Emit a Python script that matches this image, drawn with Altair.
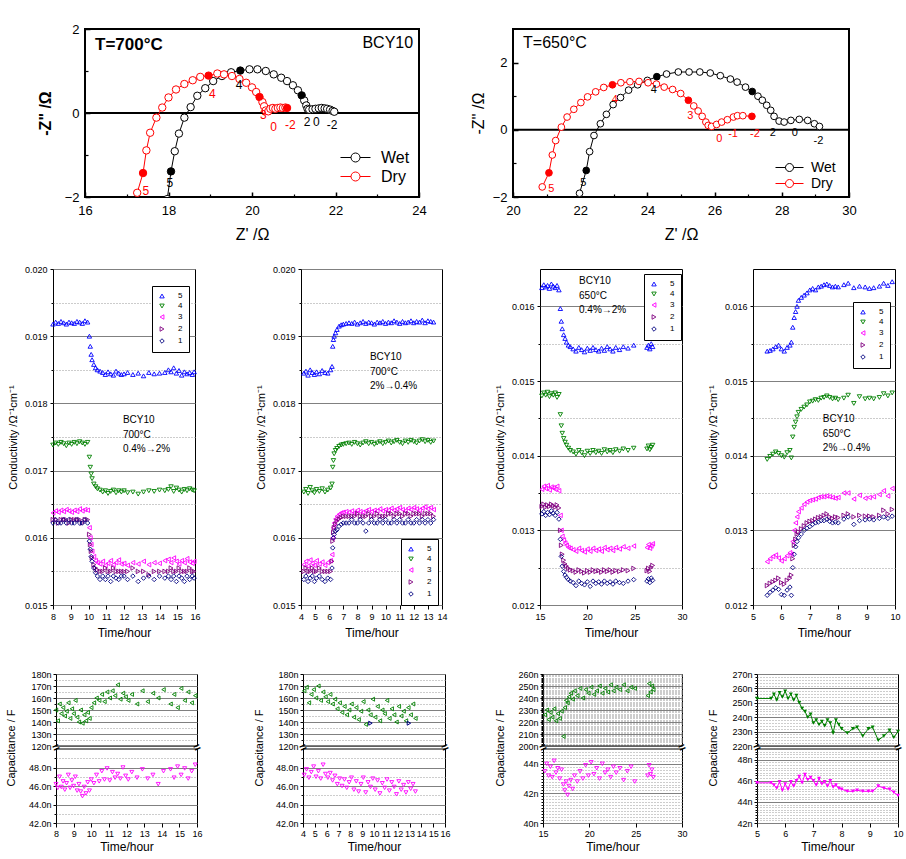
import altair as alt
import pandas as pd

FONT = "Liberation Sans"
GREEN = "#008000"
MAGENTA = "#ff00ff"
NAVY = "#000080"

# ======================= DATA =======================
# ---- Nyquist, 700 C ----
n700_wet_x = [17.97, 18.06, 18.15, 18.25, 18.38, 18.53, 18.69, 18.88, 19.07, 19.28, 19.50, 19.72, 19.94, 20.13, 20.33, 20.52, 20.70, 20.84, 20.98, 21.10, 21.19, 21.25, 21.30, 21.33, 21.37, 21.45, 21.52, 21.60, 21.67, 21.74, 21.80, 21.87, 21.93, 21.97]
n700_wet_y = [-2.05, -1.39, -0.91, -0.49, -0.11, 0.14, 0.41, 0.59, 0.76, 0.88, 0.97, 1.01, 1.04, 1.04, 1.00, 0.92, 0.84, 0.76, 0.66, 0.54, 0.42, 0.30, 0.18, 0.10, 0.08, 0.09, 0.10, 0.11, 0.12, 0.11, 0.10, 0.08, 0.05, 0.03]
n700_wet_solid = [1, 11, 20]
n700_dry_x = [17.25, 17.39, 17.47, 17.56, 17.71, 17.85, 18.00, 18.18, 18.38, 18.58, 18.76, 18.96, 19.17, 19.33, 19.52, 19.70, 19.86, 20.00, 20.10, 20.18, 20.25, 20.29, 20.33, 20.39, 20.44, 20.50, 20.56, 20.62, 20.68, 20.74, 20.80, 20.84]
n700_dry_y = [-1.90, -1.43, -0.89, -0.47, -0.11, 0.13, 0.37, 0.56, 0.69, 0.78, 0.86, 0.89, 0.94, 0.92, 0.88, 0.81, 0.72, 0.61, 0.50, 0.38, 0.26, 0.16, 0.06, 0.04, 0.10, 0.12, 0.10, 0.12, 0.13, 0.12, 0.13, 0.12]
n700_dry_solid = [1, 11, 19, 31]
n700_lab_t = ["5", "4", "2", "0", "-2", "5", "4", "3", "0", "-2"]
n700_lab_x = [18.03, 19.69, 21.32, 21.54, 21.92, 17.46, 19.05, 20.27, 20.52, 20.92]
n700_lab_y = [-1.67, 0.67, -0.22, -0.22, -0.29, -1.86, 0.45, -0.05, -0.34, -0.29]
n700_lab_s = ["Wet"] * 5 + ["Dry"] * 5

# ---- Nyquist, 650 C ----
n650_wet_x = [21.98, 22.18, 22.28, 22.41, 22.60, 22.78, 22.98, 23.20, 23.44, 23.71, 24.00, 24.28, 24.57, 24.92, 25.24, 25.56, 25.87, 26.17, 26.47, 26.67, 26.92, 27.12, 27.29, 27.42, 27.55, 27.67, 27.77, 27.92, 28.07, 28.27, 28.52, 28.77, 28.97, 29.12]
n650_wet_y = [-1.89, -1.21, -0.65, -0.17, 0.18, 0.46, 0.75, 0.96, 1.18, 1.34, 1.47, 1.58, 1.66, 1.72, 1.72, 1.72, 1.69, 1.61, 1.51, 1.42, 1.27, 1.14, 1.00, 0.88, 0.73, 0.58, 0.40, 0.26, 0.23, 0.28, 0.31, 0.28, 0.18, 0.10]
n650_wet_solid = [1, 11, 21]
n650_dry_x = [20.87, 21.07, 21.17, 21.27, 21.44, 21.61, 21.81, 22.02, 22.22, 22.46, 22.70, 22.96, 23.21, 23.48, 23.75, 24.02, 24.27, 24.50, 24.75, 24.99, 25.22, 25.38, 25.51, 25.63, 25.74, 25.81, 25.91, 26.06, 26.21, 26.38, 26.56, 26.68, 26.84, 27.11]
n650_dry_y = [-1.70, -1.28, -0.75, -0.32, 0.08, 0.38, 0.61, 0.81, 0.98, 1.13, 1.26, 1.34, 1.40, 1.43, 1.44, 1.40, 1.36, 1.27, 1.20, 1.08, 0.88, 0.71, 0.56, 0.40, 0.23, 0.13, 0.10, 0.16, 0.23, 0.30, 0.38, 0.42, 0.42, 0.40]
n650_dry_solid = [1, 11, 20, 33]
n650_lab_t = ["5", "4", "2", "0", "-2", "5", "4", "3", "0", "-1", "-2"]
n650_lab_x = [22.09, 24.19, 27.73, 28.39, 29.09, 21.14, 23.03, 25.28, 26.14, 26.55, 27.20]
n650_lab_y = [-1.59, 1.19, -0.09, -0.09, -0.32, -1.76, 0.88, 0.40, -0.27, -0.12, -0.12]
n650_lab_s = ["Wet"] * 5 + ["Dry"] * 6

# ---- Conductivity (units of 1e-5 S/cm), series 5,4,3,2,1 ----
c700a_t = [8.0, 8.15, 8.3, 8.45, 8.6, 8.75, 8.9, 9.05, 9.2, 9.35, 9.5, 9.65, 9.8, 9.95,
           10.05, 10.1, 10.15, 10.2, 10.3, 10.4, 10.5, 10.65, 10.8, 10.95, 11.1, 11.25, 11.4, 11.55, 11.7, 11.85,
           12.0, 12.2, 12.5, 12.8, 13.1, 13.4, 13.7, 14.0, 14.3,
           14.5, 14.65, 14.8, 14.95, 15.1, 15.25, 15.4, 15.55, 15.7, 15.85, 15.95]
c700a_s5 = [1918, 1921, 1919, 1922, 1920, 1918, 1921, 1920, 1919, 1922, 1921, 1919, 1923, 1921,
            1900, 1885, 1873, 1865, 1858, 1853, 1850, 1848, 1846, 1843, 1847, 1844, 1842, 1848, 1845, 1843,
            1844, 1846, 1843, 1845, 1841, 1846, 1844, 1845, 1846,
            1850, 1847, 1853, 1845, 1849, 1842, 1847, 1844, 1846, 1843, 1847]
c700a_s4 = [1738, 1741, 1739, 1742, 1740, 1737, 1741, 1739, 1742, 1740, 1743, 1741, 1739, 1742,
            1720, 1705, 1695, 1688, 1680, 1676, 1673, 1671, 1668, 1670, 1666, 1669, 1671, 1667, 1670, 1668,
            1670, 1667, 1668, 1665, 1668, 1670, 1669, 1671, 1670,
            1672, 1676, 1669, 1674, 1671, 1668, 1672, 1670, 1673, 1671, 1670]
c700a_s3 = [1637, 1640, 1638, 1641, 1639, 1642, 1640, 1638, 1641, 1639, 1643, 1640, 1642, 1641,
            1615, 1600, 1590, 1580, 1572, 1566, 1563, 1561, 1565, 1559, 1562, 1566, 1560, 1563, 1567, 1561,
            1562, 1559, 1563, 1561, 1565, 1560, 1563, 1562, 1566,
            1568, 1563, 1570, 1565, 1561, 1566, 1563, 1569, 1564, 1562, 1565]
c700a_s2 = [1627, 1627, 1622, 1627, 1627, 1627, 1622, 1627, 1627, 1627, 1627, 1622, 1627, 1627,
            1605, 1590, 1580, 1570, 1560, 1555, 1552, 1550, 1550, 1555, 1550, 1550, 1555, 1550, 1550, 1550,
            1550, 1550, 1555, 1550, 1550, 1545, 1550, 1550, 1550,
            1550, 1555, 1550, 1550, 1555, 1550, 1550, 1550, 1555, 1550, 1550]
c700a_s1 = [1622, 1627, 1622, 1622, 1627, 1622, 1627, 1622, 1622, 1627, 1622, 1622, 1627, 1622,
            1595, 1583, 1572, 1565, 1555, 1548, 1543, 1538, 1543, 1538, 1543, 1535, 1543, 1540, 1538, 1543,
            1543, 1538, 1543, 1535, 1540, 1543, 1538, 1543, 1540,
            1543, 1538, 1543, 1535, 1543, 1540, 1535, 1543, 1538, 1543, 1540]

c700b_t = [4.2, 4.35, 4.5, 4.65, 4.8, 4.95, 5.1, 5.3, 5.5, 5.7, 5.9, 6.1,
           6.2, 6.25, 6.3, 6.35, 6.45, 6.55, 6.7, 6.85, 7.0, 7.2,
           7.4, 7.6, 7.8, 8.0, 8.2, 8.4, 8.6, 8.8, 9.0, 9.2, 9.4, 9.6, 9.8, 10.0, 10.2, 10.4,
           10.6, 10.8, 11.0, 11.2, 11.4, 11.6, 11.8, 12.0, 12.2, 12.4, 12.6, 12.8, 13.0, 13.2, 13.4]
c700b_s5 = [1845, 1848, 1842, 1850, 1846, 1843, 1847, 1844, 1849, 1846, 1845, 1850,
            1855, 1885, 1895, 1900, 1905, 1910, 1915, 1917, 1918, 1919,
            1920, 1919, 1921, 1918, 1920, 1922, 1919, 1921, 1920, 1918, 1921, 1920, 1922, 1919, 1921, 1920,
            1923, 1921, 1919, 1922, 1920, 1921, 1923, 1920, 1922, 1921, 1924, 1920, 1923, 1922, 1921]
c700b_s4 = [1668, 1672, 1666, 1675, 1670, 1667, 1672, 1669, 1673, 1668, 1671, 1674,
            1680, 1705, 1715, 1725, 1730, 1733, 1736, 1738, 1739, 1740,
            1741, 1739, 1742, 1740, 1738, 1741, 1743, 1740, 1742, 1739, 1741, 1743, 1740, 1742, 1744, 1741,
            1743, 1745, 1742, 1740, 1744, 1742, 1745, 1743, 1741, 1744, 1746, 1743, 1745, 1742, 1744]
c700b_s3 = [1560, 1565, 1558, 1567, 1562, 1559, 1566, 1561, 1564, 1559, 1563, 1566,
            1575, 1600, 1615, 1622, 1628, 1632, 1635, 1637, 1638, 1639,
            1638, 1640, 1637, 1641, 1639, 1638, 1640, 1642, 1639, 1641, 1640, 1643, 1640, 1642, 1641, 1644,
            1641, 1643, 1645, 1642, 1640, 1644, 1642, 1645, 1643, 1641, 1644, 1646, 1643, 1645, 1642]
c700b_s2 = [1550, 1555, 1550, 1550, 1555, 1550, 1550, 1555, 1550, 1550, 1550, 1550,
            1565, 1595, 1608, 1615, 1620, 1625, 1628, 1630, 1632, 1632,
            1632, 1632, 1632, 1636, 1632, 1632, 1632, 1636, 1632, 1632, 1636, 1632, 1632, 1632, 1636, 1636,
            1632, 1636, 1636, 1632, 1636, 1636, 1632, 1636, 1636, 1636, 1632, 1636, 1636, 1636, 1632]
c700b_s1 = [1538, 1543, 1535, 1540, 1543, 1535, 1540, 1543, 1538, 1535, 1540, 1538,
            1555, 1585, 1600, 1605, 1610, 1612, 1617, 1620, 1622, 1622,
            1622, 1627, 1622, 1622, 1627, 1622, 1610, 1622, 1627, 1622, 1622, 1627, 1622, 1627, 1622, 1622,
            1627, 1622, 1627, 1622, 1622, 1627, 1622, 1622, 1627, 1622, 1627, 1622, 1627, 1622, 1627]

c650a_t = [15.2, 15.4, 15.6, 15.8, 16.0, 16.2, 16.4, 16.6, 16.8, 17.0,
           17.15, 17.25, 17.35, 17.5, 17.65, 17.8, 18.0, 18.2,
           18.5, 18.8, 19.1, 19.4, 19.7, 20.0, 20.3, 20.6, 20.9, 21.2, 21.5, 21.8, 22.1, 22.4, 22.7, 23.0, 23.4, 23.8, 24.3, 24.9,
           26.3, 26.45, 26.6, 26.75, 26.9]
c650a_s5 = [1625, 1629, 1626, 1628, 1624, 1630, 1627, 1625, 1628, 1622,
            1597, 1580, 1570, 1562, 1557, 1552, 1548, 1546,
            1543, 1540, 1545, 1542, 1539, 1544, 1541, 1545, 1542, 1540, 1544, 1541, 1546, 1543, 1540, 1545, 1542, 1546, 1544, 1548,
            1545, 1548, 1543, 1550, 1546]
c650a_s4 = [1480, 1484, 1481, 1485, 1479, 1483, 1481, 1484, 1478, 1482,
            1455, 1440, 1430, 1423, 1418, 1414, 1410, 1407,
            1405, 1402, 1407, 1404, 1400, 1406, 1403, 1407, 1404, 1406, 1403, 1408, 1405, 1407, 1404, 1408, 1406, 1409, 1407, 1410,
            1409, 1413, 1408, 1411, 1414]
c650a_s3 = [1355, 1359, 1356, 1360, 1354, 1358, 1357, 1355, 1359, 1353,
            1320, 1300, 1292, 1287, 1283, 1280, 1277, 1276,
            1274, 1272, 1276, 1273, 1271, 1275, 1272, 1276, 1273, 1275, 1272, 1277, 1274, 1276, 1273, 1277, 1275, 1278, 1276, 1279,
            1277, 1281, 1276, 1279, 1282]
c650a_s2 = [1332, 1335, 1331, 1334, 1332, 1335, 1333, 1331, 1334, 1330,
            1300, 1280, 1268, 1260, 1255, 1252, 1249, 1247,
            1246, 1244, 1247, 1245, 1243, 1246, 1244, 1247, 1245, 1246, 1244, 1247, 1245, 1247, 1244, 1246, 1245, 1247, 1246, 1249,
            1246, 1249, 1245, 1250, 1253]
c650a_s1 = [1322, 1325, 1320, 1324, 1321, 1326, 1323, 1320, 1324, 1315,
            1288, 1265, 1252, 1245, 1240, 1237, 1234, 1232,
            1230, 1226, 1232, 1229, 1227, 1231, 1225, 1232, 1229, 1231, 1228, 1232, 1229, 1231, 1228, 1232, 1230, 1229, 1232, 1234,
            1232, 1235, 1230, 1236, 1233]

c650b_t = [5.5, 5.6, 5.7, 5.8, 5.9, 6.0, 6.1, 6.2, 6.3, 6.35,
           6.4, 6.45, 6.5, 6.55, 6.6, 6.7, 6.8, 6.9, 7.0, 7.1, 7.2, 7.3, 7.4, 7.5,
           7.6, 7.7, 7.8, 7.9, 8.0, 8.2,
           8.35, 8.55, 8.75, 8.95, 9.1, 9.25, 9.45, 9.6, 9.75, 9.9]
c650b_s5 = [1540, 1541, 1543, 1546, 1548, 1543, 1540, 1545, 1548, 1552,
            1572, 1585, 1593, 1600, 1608, 1612, 1615, 1618, 1622, 1624, 1622, 1626, 1627, 1629,
            1630, 1628, 1626, 1627, 1626, 1629,
            1631, 1625, 1627, 1626, 1624, 1625, 1627, 1631, 1628, 1633]
c650b_s4 = [1395, 1399, 1402, 1405, 1403, 1400, 1398, 1404, 1407, 1397,
            1425, 1438, 1445, 1452, 1458, 1462, 1465, 1468, 1472, 1473, 1475, 1474, 1477, 1478,
            1480, 1478, 1476, 1477, 1475, 1477,
            1481, 1470, 1479, 1476, 1477, 1476, 1478, 1483, 1480, 1484]
c650b_s3 = [1258, 1262, 1265, 1267, 1263, 1259, 1262, 1266, 1270, 1268,
            1285, 1300, 1310, 1318, 1325, 1330, 1335, 1338, 1340, 1341, 1342, 1344, 1345, 1345,
            1346, 1345, 1344, 1343, 1344, 1350,
            1350, 1342, 1347, 1343, 1344, 1345, 1348, 1353, 1346, 1356]
c650b_s2 = [1226, 1229, 1231, 1233, 1236, 1230, 1228, 1233, 1236, 1240,
            1262, 1280, 1288, 1295, 1298, 1302, 1306, 1310, 1312, 1313, 1315, 1317, 1318, 1320,
            1322, 1318, 1316, 1318, 1317, 1320,
            1322, 1318, 1320, 1319, 1319, 1318, 1320, 1327, 1322, 1328]
c650b_s1 = [1213, 1217, 1220, 1223, 1221, 1214, 1213, 1220, 1224, 1213,
            1250, 1268, 1278, 1285, 1290, 1295, 1300, 1303, 1305, 1308, 1310, 1311, 1313, 1313,
            1315, 1312, 1310, 1311, 1310, 1315,
            1318, 1308, 1313, 1314, 1315, 1314, 1316, 1318, 1316, 1319]

# ---- Capacitance (nF) ----
p1_t = [8.0, 8.1, 8.2, 8.3, 8.4, 8.5, 8.6, 8.7, 8.8, 8.9, 9.0, 9.1, 9.2, 9.3, 9.4, 9.5, 9.6, 9.7, 9.8, 9.9, 10.0,
        10.15, 10.3, 10.45, 10.6, 10.75, 10.9, 11.05, 11.2, 11.35, 11.5, 11.65, 11.8, 11.95, 12.1,
        12.3, 12.6, 12.9, 13.2, 13.5, 13.8, 14.1, 14.5, 14.7, 14.9, 15.1, 15.3, 15.5, 15.7, 15.9]
p1_up = [150, 141, 155, 147, 152, 145, 149, 156, 143, 151, 147, 158, 144, 140, 150, 139, 146, 141, 148, 143,
         152, 156, 160, 158, 163, 157, 165, 160, 166, 162, 171, 159, 164, 161, 158, 163, 155, 166, 157, 164,
         160, 167, 155, 163, 152, 168, 158, 165, 156, 162]
p1_lo = [46.2, 45.8, 47.0, 45.9, 46.5, 45.6, 46.3, 47.2, 45.8, 46.6, 46.0, 47.0, 45.5, 46.2, 45.4, 44.9, 45.9, 45.2, 46.4, 45.5,
         46.7, 46.3, 47.2, 46.5, 47.6, 46.7, 47.9, 46.6, 47.5, 46.9, 47.3, 46.8, 48.0, 47.1, 46.7, 47.5, 46.9, 47.8, 46.8, 47.2,
         46.2, 47.6, 47.8, 46.9, 48.1, 47.2, 47.9, 46.8, 47.6, 48.3]

p2_t = [4.1, 4.3, 4.5, 4.7, 4.9, 5.1, 5.3, 5.5, 5.7, 5.9, 6.1, 6.3, 6.5, 6.7, 6.9, 7.1, 7.3, 7.5, 7.7, 7.9,
        8.1, 8.3, 8.5, 8.7, 8.9, 9.1, 9.3, 9.5, 9.7, 9.9, 10.1, 10.3, 10.5, 10.7, 10.9, 11.1, 11.3, 11.5, 11.7, 11.9,
        12.1, 12.3, 12.5, 12.7, 12.9, 13.1, 13.3, 13.5]
p2_up = [166, 169, 156, 163, 167, 160, 170, 158, 165, 161, 157, 163, 155, 159, 151, 156, 148, 153, 146, 150,
         155, 144, 152, 142, 149, 157, 138, 150, 146, 159, 144, 153, 141, 150, 147, 158, 143, 151, 146, 140,
         153, 145, 149, 141, 152, 146, 155, 143]
p2_lo = [47.2, 47.8, 46.9, 47.5, 48.1, 47.0, 47.6, 46.8, 48.3, 47.3, 46.9, 47.4, 46.6, 47.1, 46.2, 46.8, 46.0, 46.7, 45.8, 46.4,
         46.9, 45.6, 46.5, 45.4, 46.2, 46.9, 45.3, 46.4, 45.9, 46.8, 45.6, 46.6, 45.2, 46.3, 45.8, 46.7, 45.5, 46.4, 45.9, 45.1,
         46.5, 45.6, 46.1, 45.3, 46.4, 45.7, 46.2, 45.4]
p2_extra_t = [9.7, 12.95]
p2_extra_up = [139, 139]

p3_t = [15.2, 15.4, 15.6, 15.8, 16.0, 16.2, 16.4, 16.6, 16.8, 17.0, 17.2, 17.35, 17.5, 17.65, 17.8, 18.0, 18.2, 18.4, 18.7, 19.0,
        19.3, 19.6, 19.9, 20.2, 20.5, 20.8, 21.1, 21.4, 21.7, 22.0, 22.3, 22.6, 22.9, 23.3, 23.7, 24.1, 24.5, 24.9,
        26.3, 26.45, 26.6, 26.75, 26.9]
p3_up = [226, 230, 222, 228, 224, 231, 221, 227, 223, 229, 208, 232, 238, 236, 241, 244, 239, 246, 242, 248,
         240, 247, 244, 249, 243, 246, 250, 244, 248, 245, 251, 246, 249, 247, 251, 246, 249, 248,
         242, 252, 245, 250, 247]
p3_lo = [43.5, 44.0, 43.2, 43.8, 43.1, 44.2, 43.4, 43.7, 43.0, 43.6, 42.6, 42.2, 42.8, 41.9, 42.5, 42.9, 42.3, 43.2, 42.8, 43.5,
         43.0, 43.9, 43.2, 44.1, 43.3, 43.7, 43.0, 44.0, 43.4, 43.6, 43.1, 43.8, 43.4, 43.7, 42.9, 43.5, 43.8, 42.8,
         43.2, 43.9, 43.3, 43.6, 43.1]

p4_t = [5.0, 5.5, 5.6, 5.7, 5.8, 5.9, 6.0, 6.1, 6.2, 6.3, 6.4, 6.5, 6.6, 6.7, 6.8, 6.9, 7.0, 7.1, 7.2, 7.3,
        7.4, 7.5, 7.6, 7.7, 7.8, 7.9, 8.0, 8.2, 8.4, 8.55, 8.75, 8.95, 9.1, 9.3, 9.5, 9.7, 9.85, 10.0]
p4_up = [253, 253, 256, 252, 257, 254, 258, 253, 256, 252, 255, 250, 246, 244, 240, 242, 236, 238, 235, 237,
         234, 238, 236, 229, 238, 235, 232, 229, 232, 233, 227, 232, 233, 224, 227, 231, 226, 230]
p4_lo = [45.8, 45.8, 45.6, 45.3, 45.9, 45.1, 45.7, 45.2, 45.9, 45.5, 46.0, 46.4, 45.8, 46.6, 46.1, 46.3, 46.0, 45.6, 46.2, 45.7,
         45.9, 45.5, 46.0, 45.4, 45.6, 45.3, 45.2, 45.0, 45.0, 45.1, 45.0, 45.0, 45.0, 45.5, 45.3, 45.2, 44.9, 44.6]

SER = ["5", "4", "3", "2", "1"]
SER_COL = ["#0000ff", GREEN, MAGENTA, "#800080", NAVY]
SER_SHP = ["triangle-up", "triangle-down", "triangle-left", "triangle-right", "diamond"]

ONE = pd.DataFrame({"k": [0]})


# ======================= HELPERS =======================
def frame(w):
    return alt.ViewBackground(stroke="black", strokeWidth=w)


def spacer(w, top=None, bottom=None, lead=False):
    enc = dict(x=alt.value(-5 if lead else 0), x2=alt.value(w))
    if top is None:
        enc.update(y=alt.value(0), y2=alt.value(1))
    else:
        enc.update(y=alt.value(-top), y2=alt.value(bottom))
    return (alt.Chart(ONE).mark_rect(opacity=0).encode(**enc)
            .properties(width=w, height=1, view=alt.ViewBackground(stroke="transparent", strokeWidth=0)))


def nyquist(wx, wy, ws, dx, dy, ds, lt, lx, ly, ls, xdom, xvals, xminor, ydom, yvals, yminor, w, h,
            ytitle, ybold, ytx, ann, leg, labfs, msize):
    parts = []
    for name, xs_, ys_, solid in (("Wet", wx, wy, ws), ("Dry", dx, dy, ds)):
        d = pd.DataFrame({"x": xs_, "y": ys_})
        d["s"] = name
        d["i"] = range(len(d))
        d["f"] = [i in solid for i in range(len(d))]
        parts.append(d)
    df = pd.concat(parts, ignore_index=True)
    labs = pd.DataFrame({"t": lt, "x": lx, "y": ly, "s": ls})
    xs = alt.Scale(domain=xdom, nice=False, zero=False)
    ys = alt.Scale(domain=ydom, nice=False, zero=False)
    cs = alt.Scale(domain=["Wet", "Dry"], range=["black", "red"])
    # ticks point inward: axis shifted inside by the tick length
    X = alt.X("x:Q", scale=xs, axis=alt.Axis(orient="bottom", values=xvals, title="Z' /Ω", labelFontSize=13,
                                              titleFontSize=16, tickSize=5, offset=-5, labelPadding=7,
                                              titlePadding=9, labelFlush=False, grid=False, tickWidth=1.5))
    Y = alt.Y("y:Q", scale=ys, axis=alt.Axis(orient="left", values=yvals, title=ytitle, labelFontSize=13,
                                              titleFontSize=16, titleFontWeight=ybold, tickSize=5, offset=-5,
                                              labelPadding=6, grid=False, tickWidth=1.5,
                                              titleX=ytx - 5, titleY=h / 2, titleBaseline="middle"))
    X0 = alt.X("x:Q", scale=xs, axis=None)
    Y0 = alt.Y("y:Q", scale=ys, axis=None)
    CN = alt.Color("s:N", scale=cs, legend=None)
    L = alt.Legend(title=None, orient="none", legendX=leg["x"], legendY=leg["y"], symbolType=leg["path"],
                   symbolSize=leg["size"], symbolStrokeWidth=1, symbolFillColor="white",
                   labelFontSize=leg["fs"], labelOffset=leg["off"], rowPadding=0, padding=0, labelFont=FONT)
    minor = alt.Chart(pd.DataFrame({"x": [xdom[0]], "y": [ydom[0]]})).mark_point(opacity=0).encode(
        x=alt.X("x:Q", scale=xs, axis=alt.Axis(orient="bottom", values=xminor, labels=False, tickSize=3,
                                                offset=-3, grid=False, title=None, tickWidth=1.2)),
        y=alt.Y("y:Q", scale=ys, axis=alt.Axis(orient="left", values=yminor, labels=False, tickSize=3,
                                                offset=-3, grid=False, title=None, tickWidth=1.2)))
    zero = alt.Chart(pd.DataFrame({"y": [0.0]})).mark_rule(color="black", strokeWidth=2).encode(y=Y0)
    line = alt.Chart(df).mark_line(strokeWidth=1, clip=True).encode(x=X, y=Y, color=CN, order="i:Q", detail="s:N")
    pts = alt.Chart(df).mark_point(filled=False, fill="white", fillOpacity=1, size=msize, strokeWidth=1,
                                   opacity=1, clip=True).encode(x=X0, y=Y0, color=alt.Color("s:N", scale=cs, legend=L))
    sol = alt.Chart(df).transform_filter("datum.f").mark_point(filled=True, size=msize, opacity=1,
                                                               clip=True).encode(x=X0, y=Y0, color=CN)
    txt = alt.Chart(labs).mark_text(fontSize=labfs).encode(x=X0, y=Y0, text="t:N", color=CN)
    layers = [minor, zero, line, pts, sol, txt]
    for a in ann:
        layers.append(alt.Chart(pd.DataFrame({"x": [a[0]], "y": [a[1]]}))
                      .mark_text(text=a[2], fontSize=a[3], fontWeight=a[4], align=a[5], baseline="middle",
                                 color="black")
                      .encode(x=X0, y=Y0))
    return (alt.layer(*layers).resolve_axis(x="independent", y="independent")
            .resolve_legend(color="independent")
            .properties(width=w, height=h, view=frame(2)))


def cond_panel(t, vals, xdom, xvals, ydom, ymaj, ymin, w, h, ann_x, ann_y, ann_txt, lx, ly):
    parts = []
    for k, v in zip(SER, vals):
        d = pd.DataFrame({"t": t, "v": [q * 1e-5 for q in v]})
        d["s"] = k
        parts.append(d)
    df = pd.concat(parts, ignore_index=True)
    xs = alt.Scale(domain=xdom, nice=False, zero=False)
    ys = alt.Scale(domain=ydom, nice=False, zero=False)
    grid = alt.Chart(pd.DataFrame({"t": [xdom[0]], "v": [ydom[0]]})).mark_point(opacity=0).encode(
        x=alt.X("t:Q", scale=xs, axis=None),
        y=alt.Y("v:Q", scale=ys, axis=alt.Axis(orient="left", values=ymin, grid=True, gridColor="#999999",
                                                gridDash=[1, 2], labels=False, ticks=True, tickSize=2,
                                                domain=False, title=None)))
    L = alt.Legend(title=None, orient="none", legendX=lx, legendY=ly, strokeColor="black", fillColor="white",
                   padding=6, labelFontSize=8, labelFont=FONT, symbolSize=20, symbolStrokeWidth=0.9,
                   rowPadding=2, labelOffset=12)
    pts = alt.Chart(df).mark_point(filled=False, size=20, strokeWidth=0.9, opacity=1).encode(
        x=alt.X("t:Q", scale=xs, axis=alt.Axis(values=xvals, title="Time/hour", titleFontSize=12, labelFontSize=9,
                                                tickSize=4, labelPadding=3, titlePadding=6, labelFlush=False,
                                                labelOverlap=False, grid=False)),
        y=alt.Y("v:Q", scale=ys, axis=alt.Axis(orient="left", values=ymaj, format=".3f", grid=True,
                                                gridColor="#808080", gridWidth=1,
                                                title="Conductivity /Ω⁻¹cm⁻¹", titleFontSize=11, labelFontSize=9,
                                                tickSize=3, labelPadding=3, titleX=-40, titleY=h / 2,
                                                titleBaseline="middle")),
        color=alt.Color("s:N", scale=alt.Scale(domain=SER, range=SER_COL), legend=L),
        shape=alt.Shape("s:N", scale=alt.Scale(domain=SER, range=SER_SHP), legend=L))
    ann = alt.Chart(pd.DataFrame({"t": [ann_x] * 3, "v": ann_y, "txt": ann_txt})).mark_text(
        align="left", baseline="middle", fontSize=10, color="black").encode(
        x=alt.X("t:Q", scale=xs, axis=None), y=alt.Y("v:Q", scale=ys, axis=None), text="txt:N")
    return (alt.layer(grid, pts, ann).resolve_axis(x="independent", y="independent")
            .properties(width=w, height=h, view=frame(1)))


def gridaxis(vals):
    return alt.Axis(orient="left", values=vals, grid=True, gridColor="#9a9a9a", gridDash=[1, 2], labels=False,
                    ticks=True, tickSize=2, domain=False, title=None)


def cap_panel(t, up, lo, xdom, xvals, udom, umaj, umin, ldom, lmaj, lmin, lexpr, w, hu, hl, tx,
              line=False, extra=None):
    H = hu + 3 + hl
    xs = alt.Scale(domain=xdom, nice=False, zero=False)

    def us():
        return alt.Scale(domain=udom, range=[hu, 0], nice=False, zero=False)

    def ls():
        return alt.Scale(domain=ldom, range=[H, hu + 3], nice=False, zero=False)

    dfu = pd.DataFrame({"t": t, "v": up})
    dfl = pd.DataFrame({"t": t, "v": lo})
    XN = alt.X("t:Q", scale=xs, axis=None)
    ug = alt.Chart(pd.DataFrame({"t": [xdom[0]], "v": [udom[0]]})).mark_point(opacity=0).encode(
        x=XN, y=alt.Y("v:Q", scale=us(), axis=gridaxis(umin)))
    lg = alt.Chart(pd.DataFrame({"t": [xdom[0]], "v": [ldom[0]]})).mark_point(opacity=0).encode(
        x=XN, y=alt.Y("v:Q", scale=ls(), axis=gridaxis(lmin)))
    if line:
        um = alt.Chart(dfu).mark_line(color=GREEN, strokeWidth=1, point=alt.OverlayMarkDef(
            shape="triangle-down", filled=True, size=16, color=GREEN))
        lm = alt.Chart(dfl).mark_line(color=MAGENTA, strokeWidth=1, point=alt.OverlayMarkDef(
            shape="triangle-down", filled=True, size=16, color=MAGENTA))
    else:
        um = alt.Chart(dfu).mark_point(shape="triangle-left", filled=False, size=16, strokeWidth=0.9,
                                       color=GREEN, opacity=1)
        lm = alt.Chart(dfl).mark_point(shape="triangle-down", filled=False, size=16, strokeWidth=0.9,
                                       color=MAGENTA, opacity=1)
    um = um.encode(x=XN, y=alt.Y("v:Q", scale=us(), axis=alt.Axis(
        orient="left", values=umaj, labelExpr="datum.value + 'n'", grid=True, gridColor="#808080",
        title="Capacitance / F", titleFontSize=11, labelFontSize=9, tickSize=3, labelPadding=2,
        titleX=tx, titleY=hu + 1.5, titleBaseline="middle")))
    lm = lm.encode(
        x=alt.X("t:Q", scale=xs, axis=alt.Axis(values=xvals, title="Time/hour", titleFontSize=12, labelFontSize=9,
                                                tickSize=4, labelPadding=2, titlePadding=3, labelFlush=False,
                                                labelOverlap=False, grid=False)),
        y=alt.Y("v:Q", scale=ls(), axis=alt.Axis(orient="left", values=lmaj, labelExpr=lexpr, grid=True,
                                                  gridColor="#808080", title=None, labelFontSize=9, tickSize=3,
                                                  labelPadding=2)))
    layers = [ug, lg, um, lm]
    if extra is not None:
        layers.append(alt.Chart(pd.DataFrame({"t": extra[0], "v": extra[1]})).mark_point(
            shape="triangle-right", filled=False, size=16, strokeWidth=1, color=NAVY, opacity=1).encode(
            x=XN, y=alt.Y("v:Q", scale=us(), axis=None)))
    # gap between the two halves of the broken axis
    layers.append(alt.Chart(ONE).mark_rect(color="white").encode(
        x=alt.value(-2), x2=alt.value(w + 2), y=alt.value(hu + 0.5), y2=alt.value(hu + 2.5)))
    for yv in (hu, hu + 3):
        layers.append(alt.Chart(ONE).mark_rule(color="black", strokeWidth=1).encode(
            x=alt.value(0), x2=alt.value(w), y=alt.value(yv)))
    for xv in (0, w):
        layers.append(alt.Chart(ONE).mark_text(text="=", angle=335, fontSize=12, fontWeight="bold",
                                               color="black").encode(x=alt.value(xv), y=alt.value(hu + 1.5)))
    return (alt.layer(*layers).resolve_scale(y="independent").resolve_axis(x="independent", y="independent")
            .properties(width=w, height=H, view=frame(1)))


# ======================= PANELS =======================
PATH_A = "M-1.5,0L-0.45,0M0.45,0L1.5,0M0.45,0A0.45,0.45,0,1,1,-0.45,0A0.45,0.45,0,1,1,0.45,0Z"
PATH_B = "M-1.75,0L-0.5,0M0.5,0L1.75,0M0.5,0A0.5,0.5,0,1,1,-0.5,0A0.5,0.5,0,1,1,0.5,0Z"

nyA = nyquist(n700_wet_x, n700_wet_y, n700_wet_solid, n700_dry_x, n700_dry_y, n700_dry_solid,
              n700_lab_t, n700_lab_x, n700_lab_y, n700_lab_s,
              [16, 24], [16, 18, 20, 22, 24], [17, 19, 21, 23], [-2, 2], [-2, 0, 2], [-1, 1], 334, 168,
              "-Z\" /Ω", "bold", -40,
              [(16.24, 1.62, "T=700°C", 17, "bold", "left"), (23.86, 1.66, "BCY10", 16, "normal", "right")],
              {"x": 260, "y": 118, "path": PATH_A, "size": 400, "fs": 16, "off": 15}, 12, 55)
nyB = nyquist(n650_wet_x, n650_wet_y, n650_wet_solid, n650_dry_x, n650_dry_y, n650_dry_solid,
              n650_lab_t, n650_lab_x, n650_lab_y, n650_lab_s,
              [20, 30], [20, 22, 24, 26, 28, 30], [21, 23, 25, 27, 29], [-2, 3], [-2, 0, 2], [-1, 1], 336, 168,
              "-Z'' /Ω", "normal", -35,
              [(20.3, 2.58, "T=650°C", 16, "normal", "left")],
              {"x": 268, "y": 130, "path": PATH_B, "size": 256, "fs": 14, "off": 13}, 11, 45)

Y_A_MAJ = [0.015, 0.016, 0.017, 0.018, 0.019, 0.020]
Y_A_MIN = [0.0155, 0.0165, 0.0175, 0.0185, 0.0195]
Y_B_MAJ = [0.012, 0.013, 0.014, 0.015, 0.016]
Y_B_MIN = [0.0125, 0.0135, 0.0145, 0.0155]

m1 = cond_panel(c700a_t, [c700a_s5, c700a_s4, c700a_s3, c700a_s2, c700a_s1], [8, 16], list(range(8, 17)),
                [0.015, 0.020], Y_A_MAJ, Y_A_MIN, 142, 336, 11.94, [0.017754, 0.017530, 0.017321],
                ["BCY10", "700°C", "0.4%→2%"], 99, 17)
m2 = cond_panel(c700b_t, [c700b_s5, c700b_s4, c700b_s3, c700b_s2, c700b_s1], [4, 14], list(range(4, 15)),
                [0.015, 0.020], Y_A_MAJ, Y_A_MIN, 141, 336, 8.89, [0.018690, 0.018467, 0.018259],
                ["BCY10", "700°C", "2%→0.4%"], 100, 270)
m3 = cond_panel(c650a_t, [c650a_s5, c650a_s4, c650a_s3, c650a_s2, c650a_s1], [15, 30], [15, 20, 25, 30],
                [0.012, 0.0165], Y_B_MAJ, Y_B_MIN, 142, 336, 19.12, [0.016340, 0.016138, 0.015950],
                ["BCY10", "650°C", "0.4%→2%"], 104, 5)
m4 = cond_panel(c650b_t, [c650b_s5, c650b_s4, c650b_s3, c650b_s2, c650b_s1], [5, 10], list(range(5, 11)),
                [0.012, 0.0165], Y_B_MAJ, Y_B_MIN, 142, 336, 7.46, [0.014487, 0.014286, 0.014098],
                ["BCY10", "650°C", "2%→0.4%"], 100, 33)

FMT1 = "format(datum.value, '.1f') + 'n'"
FMT0 = "datum.value + 'n'"
b1 = cap_panel(p1_t, p1_up, p1_lo, [8, 16], list(range(8, 17)),
               [120, 180], [120, 130, 140, 150, 160, 170, 180], [125, 135, 145, 155, 165, 175],
               [42, 50], [42, 44, 46, 48], [43, 45, 47, 49], FMT1, 141, 72, 74, -45)
b2 = cap_panel(p2_t, p2_up, p2_lo, [4, 16], list(range(4, 17)),
               [120, 180], [120, 130, 140, 150, 160, 170, 180], [125, 135, 145, 155, 165, 175],
               [42, 50], [42, 44, 46, 48], [43, 45, 47, 49], FMT1, 142, 72, 74, -44,
               extra=(p2_extra_t, p2_extra_up))
b3 = cap_panel(p3_t, p3_up, p3_lo, [15, 30], [15, 20, 25, 30],
               [200, 260], [200, 210, 220, 230, 240, 250, 260], [200 + i for i in range(1, 60) if i % 10],
               [40, 45], [40, 42, 44], [round(40 + 0.2 * i, 1) for i in range(1, 25) if i % 10],
               FMT0, 139, 72, 74, -43)
b4 = cap_panel(p4_t, p4_up, p4_lo, [5, 10], list(range(5, 11)),
               [220, 270], [220, 230, 240, 250, 260, 270], [220 + 2 * i for i in range(1, 25) if i % 5],
               [42, 49], [42, 44, 46, 48], [round(42 + 0.25 * i, 2) for i in range(1, 28) if i % 8],
               FMT0, 141, 72, 74, -44, line=True)


# ======================= LAYOUT =======================
def row(*charts):
    return alt.hconcat(*charts, spacing=0, bounds="flush").resolve_scale(color="independent",
                                                                          shape="independent")


row1 = row(spacer(80, 10, 240, lead=True), nyA, spacer(94), nyB)
row2 = row(spacer(48, 10, 405, lead=True), m1, spacer(106), m2, spacer(98), m3, spacer(71), m4)
row3 = row(spacer(51, 10, 40, lead=True), b1, spacer(106), b2, spacer(98), b3, spacer(75), b4)

chart = (alt.vconcat(row1, row2, row3, spacing=-60)
         .resolve_scale(color="independent", shape="independent")
         .properties(padding={"left": 0, "top": 19, "right": 0, "bottom": 0})
         .configure(font=FONT)
         .configure_axis(labelFont=FONT, titleFont=FONT, labelColor="black", titleColor="black",
                         tickColor="black", domain=False, titleFontWeight="normal")
         .configure_text(font=FONT)
         .configure_legend(labelFont=FONT, labelColor="black"))

chart.save("out.html", embed_options={"renderer": "svg", "actions": False})
